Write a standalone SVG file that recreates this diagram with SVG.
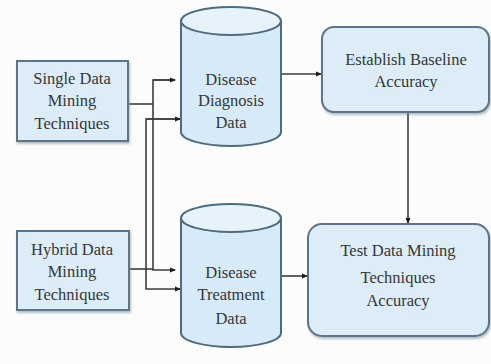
<svg xmlns="http://www.w3.org/2000/svg" width="491" height="364" viewBox="0 0 491 364" font-family="Liberation Serif, DejaVu Serif, serif">
  <style>
    .box { fill: #dcedf8; stroke: #5b7488; stroke-width: 2; }
    .cyl { fill: #d6ebf7; stroke: #4f6b80; stroke-width: 2; }
    .cap { fill: #e6f3fa; stroke: #4f6b80; stroke-width: 2; }
    .lbl { font-size: 16.5px; fill: #363636; text-anchor: middle; }
    .wire { fill: none; stroke: #3c3c3c; stroke-width: 1.6; }
  </style>
  <defs>
    <marker id="tip" markerWidth="6" markerHeight="6" refX="5" refY="3" orient="auto" markerUnits="userSpaceOnUse">
      <path d="M0,0.5 L6,3 L0,5.5 Z" fill="#1e1e1e"/>
    </marker>
    <filter id="shade" x="-10%" y="-10%" width="130%" height="130%">
      <feDropShadow dx="1" dy="2" stdDeviation="1.2" flood-color="#6f7f8a" flood-opacity="0.5"/>
    </filter>
  </defs>

  <rect width="491" height="364" fill="#fcfcfc"/>

  <!-- connectors -->
  <g id="connectors">
    <!-- single techniques feed -->
    <path class="wire" d="M128,104 H153"/>
    <!-- hybrid techniques feed -->
    <path class="wire" d="M129,269 H153"/>
    <!-- outer bus to both data stores -->
    <path class="wire" d="M175,80 H153 V270 H175" marker-end="url(#tip)"/>
    <path class="wire" d="M153,80 H175" marker-end="url(#tip)"/>
    <!-- inner bus to both data stores -->
    <path class="wire" d="M180,119 H146 V289 H180" marker-end="url(#tip)"/>
    <path class="wire" d="M146,119 H180" marker-end="url(#tip)"/>
    <!-- stores to evaluation steps -->
    <path class="wire" d="M282,74 H321" marker-end="url(#tip)"/>
    <path class="wire" d="M282,276 H307" marker-end="url(#tip)"/>
    <path class="wire" d="M408,112 V223" marker-end="url(#tip)"/>
  </g>

  <g id="single-techniques">
    <rect class="box" x="17" y="61" width="111" height="80" filter="url(#shade)"/>
    <text class="lbl" x="72" y="84">Single Data</text>
    <text class="lbl" x="72" y="106">Mining</text>
    <text class="lbl" x="72" y="129">Techniques</text>
  </g>

  <g id="hybrid-techniques">
    <rect class="box" x="17" y="231" width="112" height="79" filter="url(#shade)"/>
    <text class="lbl" x="72" y="255">Hybrid Data</text>
    <text class="lbl" x="72" y="277">Mining</text>
    <text class="lbl" x="72" y="300">Techniques</text>
  </g>

  <g id="diagnosis-data">
    <path class="cyl" d="M181,21 V132 A50,14 0 0 0 281,132 V21"/>
    <ellipse class="cap" cx="231" cy="21" rx="50" ry="14"/>
    <text class="lbl" x="231" y="85">Disease</text>
    <text class="lbl" x="231" y="106">Diagnosis</text>
    <text class="lbl" x="231" y="128">Data</text>
  </g>

  <g id="treatment-data">
    <path class="cyl" d="M181,218 V333 A50,14 0 0 0 281,333 V218"/>
    <ellipse class="cap" cx="231" cy="218" rx="50" ry="14"/>
    <text class="lbl" x="231" y="278">Disease</text>
    <text class="lbl" x="231" y="300">Treatment</text>
    <text class="lbl" x="231" y="324">Data</text>
  </g>

  <g id="baseline-accuracy">
    <rect class="box" x="322" y="27" width="167" height="85" rx="12" filter="url(#shade)"/>
    <text class="lbl" x="406" y="65">Establish Baseline</text>
    <text class="lbl" x="406" y="87">Accuracy</text>
  </g>

  <g id="test-accuracy">
    <rect class="box" x="308" y="224" width="181" height="112" rx="14" filter="url(#shade)"/>
    <text class="lbl" x="398" y="256">Test Data Mining</text>
    <text class="lbl" x="398" y="283">Techniques</text>
    <text class="lbl" x="398" y="306">Accuracy</text>
  </g>
</svg>
